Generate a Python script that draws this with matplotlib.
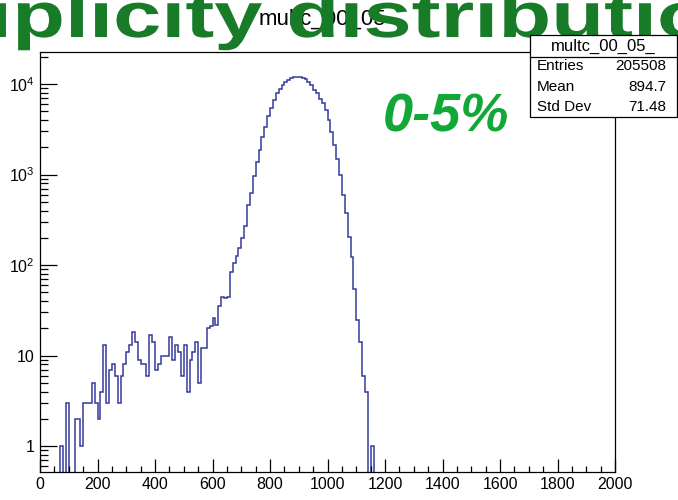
import numpy as np
import matplotlib.pyplot as plt
from matplotlib.ticker import FixedLocator, MultipleLocator, LogLocator, NullFormatter
from matplotlib.patches import Rectangle
from matplotlib.patheffects import AbstractPathEffect
from matplotlib.transforms import Affine2D

plt.rcParams['font.family'] = ['Liberation Sans', 'DejaVu Sans']
plt.rcParams['mathtext.fontset'] = 'custom'
plt.rcParams['mathtext.rm'] = 'Liberation Sans'
plt.rcParams['mathtext.it'] = 'Liberation Sans:italic'
plt.rcParams['mathtext.bf'] = 'Liberation Sans:bold'

#%% data (10-unit bins from 0 to 2000)
bin_edges = np.arange(0, 2001, 10)
filled_counts = [0, 0, 0, 0, 0, 0, 0, 1, 0, 3,        # 0-99
                 0, 0, 2, 2, 1, 3, 3, 3, 5, 3,        # 100-199
                 2, 4, 13, 3, 7, 8, 6, 3, 6, 8,       # 200-299
                 11, 13, 18, 14, 9, 8, 8, 6, 17, 14,  # 300-399
                 7, 8, 10, 10, 10, 16, 9, 13, 11, 6,  # 400-499
                 13, 4, 9, 11, 14, 5, 12, 12, 20, 21,  # 500-599
                 26, 22, 35, 44, 43, 44, 84, 106, 126, 155,  # 600-699
                 197, 268, 460, 630, 975, 1385, 1880, 2570, 3375, 4425,  # 700-799
                 5385, 6650, 7890, 8740, 9750, 10600, 11150, 11650, 11950, 12050,  # 800-899
                 12000, 11800, 11300, 10600, 9750, 8600, 7900, 6800, 6100, 5160,  # 900-999
                 4000, 2970, 2120, 1470, 987, 600, 378, 206, 122, 55,  # 1000-1099
                 25, 14, 6, 4, 0, 1]                  # 1100-1159
counts = np.zeros(len(bin_edges) - 1)
counts[:len(filled_counts)] = filled_counts

hist_name = 'multc_00_05'
stat_labels = ['Entries', 'Mean', 'Std Dev']
stat_values = ['205508', '894.7', '71.48']
y_ticks = [1, 10, 100, 1000, 10000]
y_tick_labels = ['1', '10', '$10^{2}$', '$10^{3}$', '$10^{4}$']


class Stretch(AbstractPathEffect):
    # widen glyphs horizontally around the text origin
    def __init__(self, sx):
        super().__init__()
        self.sx = sx

    def draw_path(self, renderer, gc, tpath, affine, rgbFace=None):
        renderer.draw_path(gc, tpath, Affine2D().scale(self.sx, 1.0) + affine, rgbFace)


W, H = 678, 500
fig = plt.figure(figsize=(6.78, 5.0), dpi=100)
ax = fig.add_axes([40/W, 28/H, 575/W, 420/H])

# zero bins are pushed below the frame so the line drops to the axis
shown = np.where(counts > 0, counts, 1e-2)
ax.stairs(shown, bin_edges, baseline=None, color='#35399b', lw=1.1)

ax.set_yscale('log')
ax.set_xlim(0, 2000)
ax.set_ylim(0.516, 22600)

ax.xaxis.set_major_locator(MultipleLocator(200))
ax.xaxis.set_minor_locator(MultipleLocator(50))
ax.yaxis.set_major_locator(FixedLocator(y_ticks))
ax.set_yticklabels(y_tick_labels)
ax.yaxis.set_minor_locator(LogLocator(base=10, subs=np.arange(2, 10)))
ax.yaxis.set_minor_formatter(NullFormatter())

ax.tick_params(axis='x', which='major', direction='in', length=9.1, width=0.9, labelsize=11.5, pad=3.5)
ax.tick_params(axis='x', which='minor', direction='in', length=4.5, width=0.9)
ax.tick_params(axis='y', which='major', direction='in', length=12.2, width=0.9, labelsize=11.5, pad=4)
ax.tick_params(axis='y', which='minor', direction='in', length=6.1, width=0.9)
for sp in ax.spines.values():
    sp.set_linewidth(0.9)

# title of the histogram (partly hidden under the green label)
fig.text(322/W, 1 - 19/H, hist_name, ha='center', va='center', fontsize=16, zorder=3)

# big green label, cropped by the canvas edges
big = fig.text(-190/W, 1 - 37/H, 'Multiplicity distribution', ha='left', va='baseline',
               fontsize=46, fontweight='bold', color='#177b27', zorder=4)
big.set_path_effects([Stretch(1.356)])

fig.text(383/W, 1 - 131/H, '0-5%', ha='left', va='baseline', fontsize=39,
         fontweight='bold', fontstyle='italic', color='#12a838')

# stats box
bx0, bx1, by0, by1, bymid = 530, 677, 117, 35, 57
fig.patches.append(Rectangle((bx0/W, 1 - by0/H), (bx1 - bx0)/W, (by0 - by1)/H,
                             transform=fig.transFigure, facecolor='white',
                             edgecolor='black', lw=0.9, zorder=6))
fig.add_artist(plt.Line2D([bx0/W, bx1/W], [1 - bymid/H, 1 - bymid/H],
                          transform=fig.transFigure, color='black', lw=0.9, zorder=7))
fig.text((bx0 + bx1)/2/W, 1 - 46/H, hist_name + '_', ha='center', va='center',
         fontsize=12, zorder=8)
for i, (lab, val) in enumerate(zip(stat_labels, stat_values)):
    yy = 1 - (66 + 20.7*i)/H
    fig.text(537/W, yy, lab, ha='left', va='center', fontsize=11, zorder=8)
    fig.text(666/W, yy, val, ha='right', va='center', fontsize=11, zorder=8)

fig.savefig('out.png', dpi=100)
